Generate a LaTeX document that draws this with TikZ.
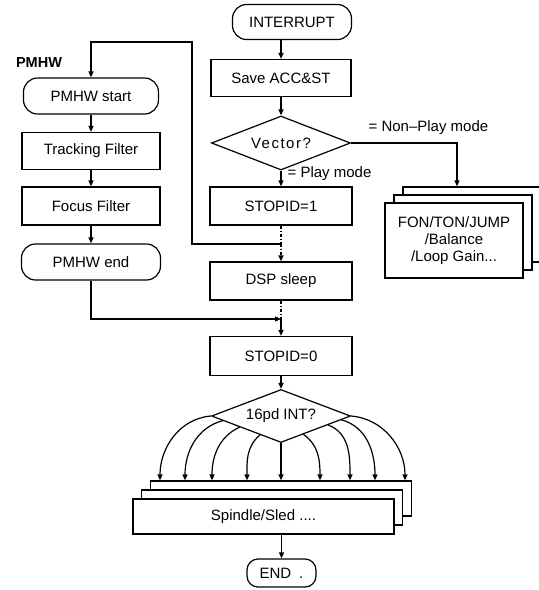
\documentclass[tikz,border=0pt]{standalone}
\usepackage{fontspec}
\setmainfont{Liberation Sans}
\newfontfamily\wide[LetterSpace=10]{Liberation Sans}
\usetikzlibrary{arrows.meta,shapes.geometric,calc}

\begin{document}
\begin{tikzpicture}[x=1pt, y=1pt, line width=1.2pt,
        every node/.style={font=\fontsize{15}{17}\selectfont},
        box/.style={draw, fill=white, minimum width=142pt, minimum height=38pt, inner sep=0pt},
        term/.style={draw, rounded corners=14pt, minimum height=36pt, inner sep=0pt},
        decide/.style={draw, diamond, aspect=2.5, minimum width=139pt, minimum height=54pt, inner sep=0pt},
        arr/.style={-{Triangle[length=6pt,width=5pt]}},
        mode/.style={anchor=west, inner sep=0pt}]
        \useasboundingbox (0,0) rectangle (539,-590);
        % PMHW routine
        \node[font=\fontsize{14.5}{17}\selectfont\bfseries] (pmhw) at (39,-63) {PMHW};
        \node[term, minimum width=135pt] (pstart) at (91,-96) {PMHW start};
        \node[box, minimum width=138pt, minimum height=37pt] (track) at (91,-151) {Tracking Filter};
        \node[box, minimum width=138pt] (focus) at (91,-206) {Focus Filter};
        \node[term, minimum width=139pt] (pend) at (91,-262) {PMHW end};
        % interrupt routine
        \node[term, minimum width=119pt, minimum height=35pt] (intr) at (292,-22) {INTERRUPT};
        \node[box, minimum width=140pt, minimum height=37pt] (save) at (281,-78) {Save ACC\&ST};
        \node[decide] (vec) at (281,-143) {\wide Vector?};
        \node[box] (stop1) at (281,-206) {STOPID=1};
        \node[box] (dsp) at (281,-281) {DSP sleep};
        \node[box, minimum height=39pt] (stop0) at (281,-356) {STOPID=0};
        \node[decide, minimum height=53pt] (intq) at (281,-416) {16pd INT?};
        \node[mode] (npl) at (368,-128) {= Non--Play mode};
        \node[mode] (pl) at (287,-174) {= Play mode};
        % stacked boxes
        \node[box, minimum width=138pt, minimum height=75pt] (fon3) at (472,-224.5) {};
        \node[box, minimum width=138pt, minimum height=75pt] (fon2) at (463,-232.5) {};
        \node[box, minimum width=138pt, minimum height=75pt, align=center] (fon1) at (454,-240.5)
            {FON/TON/JUMP\\/Balance\\/Loop Gain...};
        \node[box, minimum width=261pt, minimum height=35pt] (sp3) at (281,-498.5) {};
        \node[box, minimum width=261pt, minimum height=35pt] (sp2) at (272,-507.5) {};
        \node[box, minimum width=261pt, minimum height=35pt] (sp1) at (263.5,-516.5) {Spindle/Sled ....};
        \node[term, minimum width=69pt, minimum height=28pt, rounded corners=11pt] (end) at (281.5,-573)
            {END\hspace{8pt}.};
        \coordinate (j1) at (281,-244);
        \coordinate (j2) at (281,-319);
        \coordinate (loop) at (192,-42);
        \coordinate (nonplay) at ($(fon3.north)+(-15,0)$);
        % connectors
        \draw[arr] (pstart) -- (track);
        \draw[arr] (track) -- (focus);
        \draw[arr] (focus) -- (pend);
        \draw[arr] (intr.south -| save.north) -- (save.north);
        \draw[arr] (save) -- (vec);
        \draw[arr] (vec) -- (stop1);
        \draw[arr] (vec.east) -| (nonplay);
        \draw[dash dot] (stop1) -- (j1);
        \draw[arr, dash dot] (j1) -- (dsp);
        \draw[arr] (j1) -| (loop) -| (pstart.north);
        \draw[dash dot] (dsp) -- (j2);
        \draw[arr] (j2) -- (stop0);
        \draw[arr] (pend.south) |- (j2);
        \draw[arr] (stop0) -- (intq);
        \foreach \f/\o/\x in {0/185/160, .17/195/185, .41/205/212, .7/220/247}
            \draw[arr] ($(intq.west)!\f!(intq.south)$) to[out=\o, in=90] (\x,0 |- sp3.north);
        \draw[arr] (intq.south) -- (intq.south |- sp3.north);
        \foreach \f/\o/\x in {.32/-35/320, .67/-20/350, .86/-15/375, 1/-5/405}
            \draw[arr] ($(intq.south)!\f!(intq.east)$) to[out=\o, in=90] (\x,0 |- sp3.north);
        \draw[arr] (sp1.south -| end.north) -- (end.north);
\end{tikzpicture}
\end{document}
